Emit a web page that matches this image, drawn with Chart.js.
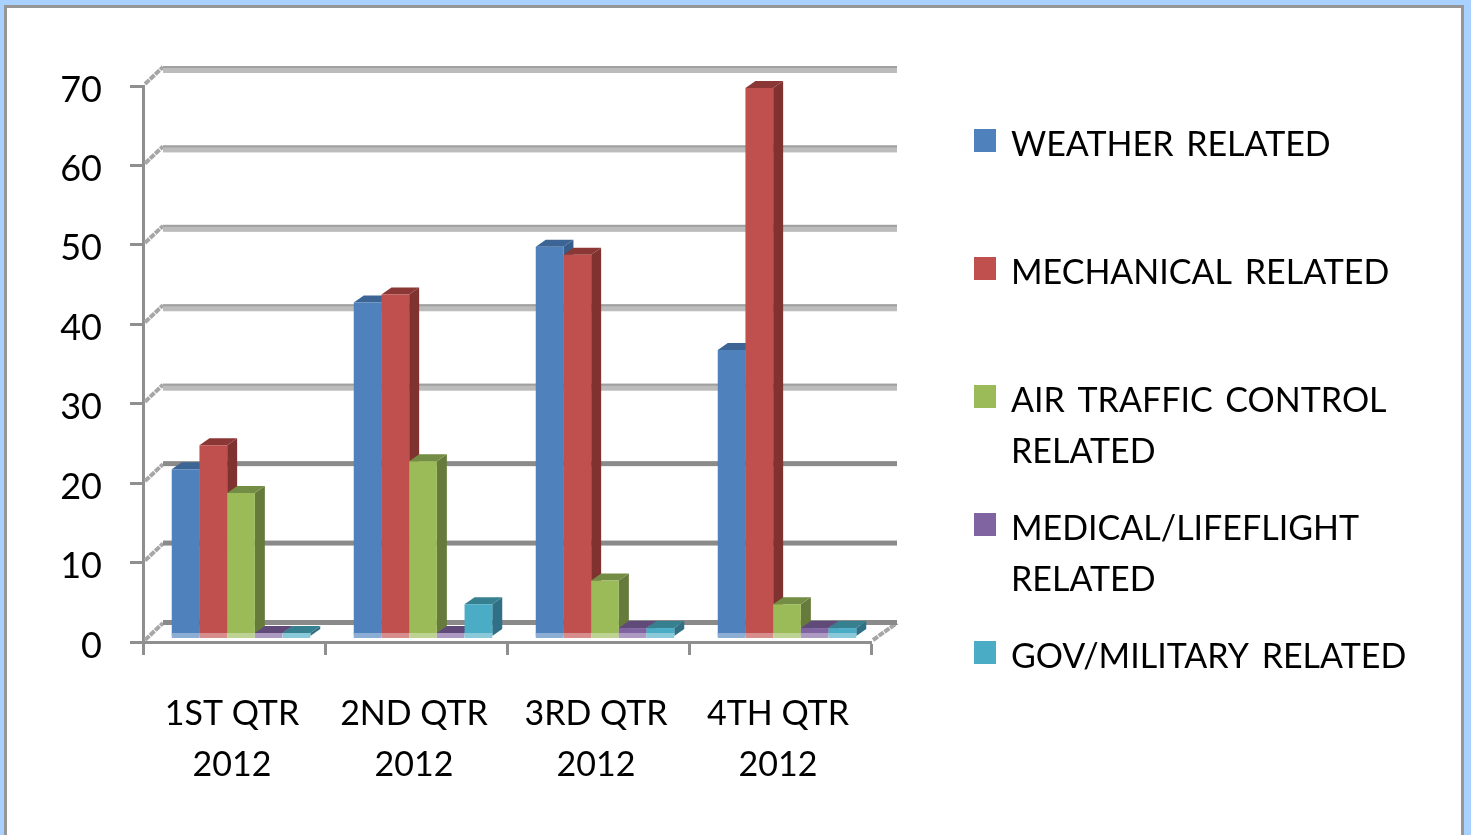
<!DOCTYPE html>
<html>
<head>
<meta charset="utf-8">
<title>Delays by quarter 2012</title>
<script src="https://cdn.jsdelivr.net/npm/chart.js@4"></script>
<style>
  html, body { margin: 0; height: 100%; overflow: hidden; background: #a8d1ff; }
  #frame { position: absolute; left: 4px; top: 5px; width: 1454px; height: 830px; background: #fff;
           border: 3px solid #969696; border-bottom: none; }
  canvas { position: absolute; left: 0; top: 0; filter: blur(0.7px); }
</style>
</head>
<body>
<div id="frame"></div>
<canvas id="chart" width="1471" height="835"></canvas>
<script>
const categories = [["1ST QTR", "2012"], ["2ND QTR", "2012"], ["3RD QTR", "2012"], ["4TH QTR", "2012"]];
const weather = [21, 42, 49, 36];
const mechanical = [24, 43, 48, 69];
const airTraffic = [18, 22, 7, 4];
const medical = [0, 0, 1, 1];
const military = [0, 4, 1, 1];
const yTicks = [0, 10, 20, 30, 40, 50, 60, 70];

const seriesNames = [
  ["WEATHER RELATED"],
  ["MECHANICAL RELATED"],
  ["AIR TRAFFIC CONTROL", "RELATED"],
  ["MEDICAL/LIFEFLIGHT", "RELATED"],
  ["GOV/MILITARY RELATED"]
];
const seriesValues = [weather, mechanical, airTraffic, medical, military];
const frontColors = ["#4f81bd", "#c0504d", "#9bbb59", "#8064a2", "#4bacc6"];
const sideColors = ["#385d8a", "#7f3230", "#667b3b", "#54426b", "#2f7086"];
const topColors = ["#3c6595", "#8a3735", "#748d44", "#5f4a7a", "#37808f"];

const FONT = "Lato, sans-serif";
const FONT_SIZE = 34;

// excel style 3D walls: back gridlines and the slanted bits joining them to the axis
const walls = {
  id: "walls",
  beforeDatasetsDraw(chart) {
    const { ctx, chartArea, scales } = chart;
    ctx.save();
    yTicks.forEach(v => {
      const y = scales.y.getPixelForValue(v);
      const heavy = v >= 30;
      ctx.setLineDash([6, 1]);
      ctx.strokeStyle = "#a6a6a6";
      ctx.lineWidth = 4;
      ctx.beginPath();
      ctx.moveTo(chartArea.left + 2, y - 2);
      ctx.lineTo(chartArea.left + 20, y - 19);
      ctx.stroke();
      if (v === 0) {
        ctx.beginPath();
        ctx.moveTo(chartArea.right + 2, y - 2);
        ctx.lineTo(chartArea.right + 26, y - 19);
        ctx.stroke();
      }
      ctx.setLineDash([]);
      if (heavy) {
        ctx.fillStyle = "#bcbcbc";
        ctx.fillRect(chartArea.left + 20, y - 20, chartArea.right - chartArea.left + 6, 7);
        ctx.fillStyle = "#a0a0a0";
        ctx.fillRect(chartArea.left + 20, y - 20, chartArea.right - chartArea.left + 6, 2);
      } else {
        ctx.fillStyle = "#8a8a8a";
        ctx.fillRect(chartArea.left + 20, y - 22, chartArea.right - chartArea.left + 6, 5);
      }
    });
    ctx.restore();
  }
};

// draws the bars in series order so each one covers the side of the previous one
const bars3d = {
  id: "bars3d",
  beforeDatasetsDraw(chart) {
    const { ctx, scales } = chart;
    const base = scales.y.getPixelForValue(0);
    ctx.save();
    ctx.translate(7, -6);
    chart.data.datasets.forEach((ds, i) => {
      chart.getDatasetMeta(i).data.forEach(bar => {
        const left = bar.x - bar.width / 2;
        const right = bar.x + bar.width / 2;
        const top = Math.min(bar.y, base - 3);
        const dx = 10, dy = 7;

        ctx.fillStyle = sideColors[i];
        ctx.beginPath();
        ctx.moveTo(right, top);
        ctx.lineTo(right + dx, top - dy);
        ctx.lineTo(right + dx, base - dy);
        ctx.lineTo(right, base);
        ctx.closePath();
        ctx.fill();

        ctx.fillStyle = topColors[i];
        ctx.beginPath();
        ctx.moveTo(left, top);
        ctx.lineTo(left + dx, top - dy);
        ctx.lineTo(right + dx, top - dy);
        ctx.lineTo(right, top);
        ctx.closePath();
        ctx.fill();

        bar.draw(ctx);

        // washed out strip along the floor
        ctx.fillStyle = "#fff";
        ctx.fillRect(left, base - 3, bar.width, 5);
        ctx.globalAlpha = 0.65;
        ctx.fillStyle = frontColors[i];
        ctx.fillRect(left, base - 3, bar.width, 5);
        ctx.globalAlpha = 1;
      });
    });
    ctx.restore();
    return false;
  }
};

// legend with wrapped entries, which the built in one can't do
const sideLegend = {
  id: "sideLegend",
  afterDraw(chart) {
    const { ctx } = chart;
    ctx.save();
    ctx.font = FONT_SIZE + "px " + FONT;
    ctx.textBaseline = "middle";
    ctx.wordSpacing = "4px";
    chart.data.datasets.forEach((ds, i) => {
      const y = 141 + i * 128;
      ctx.fillStyle = frontColors[i];
      ctx.fillRect(974, y - 12, 22, 23);
      ctx.fillStyle = "#000";
      ds.label.forEach((line, l) => ctx.fillText(line, 1011, y + 4 + l * 51));
    });
    ctx.restore();
  }
};

new Chart(document.getElementById("chart"), {
  type: "bar",
  data: {
    labels: categories,
    datasets: seriesValues.map((values, i) => ({
      label: seriesNames[i],
      data: values,
      backgroundColor: frontColors[i],
      borderWidth: 0
    }))
  },
  plugins: [walls, bars3d, sideLegend],
  options: {
    responsive: false,
    animation: false,
    layout: { padding: { left: 0, top: 86, right: 600, bottom: 0 } },
    datasets: { bar: { categoryPercentage: 0.761, barPercentage: 1 } },
    plugins: { legend: { display: false }, tooltip: { enabled: false } },
    scales: {
      x: {
        afterFit: s => { s.height = 193; },
        border: { color: "#8f8f8f", width: 3 },
        grid: { drawOnChartArea: false, tickLength: 13, tickColor: "#8f8f8f", tickWidth: 3 },
        ticks: {
          color: "#000",
          padding: 34,
          labelOffset: -2,
          maxRotation: 0,
          autoSkip: false,
          font: { family: FONT, size: FONT_SIZE, lineHeight: 1.5 }
        }
      },
      y: {
        min: 0,
        max: 70,
        afterFit: s => { s.width = 143; },
        border: { color: "#8f8f8f", width: 3 },
        grid: { drawOnChartArea: false, tickLength: 13, tickColor: "#8f8f8f", tickWidth: 3 },
        ticks: {
          color: "#000",
          stepSize: 10,
          padding: 28,
          labelOffset: 4,
          font: { family: FONT, size: 36 }
        }
      }
    }
  }
});
</script>
</body>
</html>
